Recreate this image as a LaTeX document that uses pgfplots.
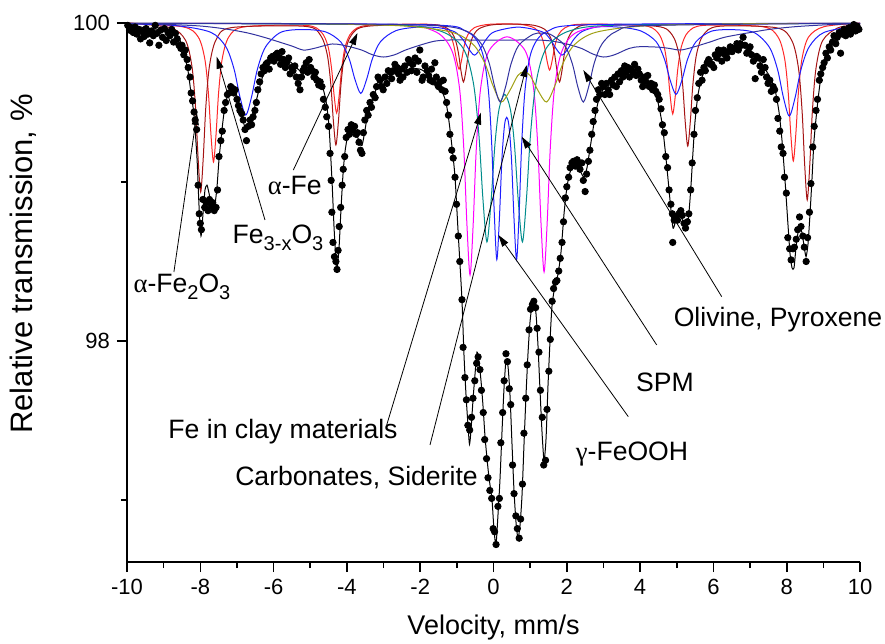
\documentclass[border=0pt]{standalone}
\usepackage{fontspec}
\setmainfont{Liberation Sans}
\newfontfamily\grk{Liberation Serif}
\usepackage{pgfplots}
\pgfplotsset{compat=1.18}
\usetikzlibrary{arrows.meta}

\definecolor{cred}{RGB}{255,40,40}
\definecolor{cdred}{RGB}{165,20,20}
\definecolor{cblue}{RGB}{30,30,255}
\definecolor{cnavy}{RGB}{50,50,160}
\definecolor{cmag}{RGB}{255,0,255}
\definecolor{cteal}{RGB}{0,140,140}
\definecolor{colive}{RGB}{160,160,20}

\newcommand\sub[1]{\raisebox{-0.45ex}{\fontsize{10}{10}\selectfont #1}}
\newcommand\annfont{\fontsize{13.3}{15}\selectfont}

\begin{document}
\begin{tikzpicture}[arr/.style={-{Triangle[length=6pt,width=3.5pt]}, line width=0.4pt, black},
  ann/.style={font=\annfont, inner sep=0pt}]
\begin{axis}[
    scale only axis,
    width=366.5pt, height=269.5pt,
    xmin=-10, xmax=10,
    ymin=96.61, ymax=100,
    axis x line*=bottom, axis y line*=left,
    axis line style={-, line width=0.8pt},
    xtick={-10,-8,...,10},
    minor xtick={-9,-7,...,9},
    ytick={98,100},
    minor ytick={97,99},
    tick align=outside,
    major tick length=5pt, minor tick length=3pt,
    tick style={line width=0.8pt, black},
    tick label style={font=\fontsize{11}{13}\selectfont},
    /pgf/number format/assume math mode=true,
    xlabel={Velocity, mm/s},
    ylabel={Relative transmission, \%},
    every axis x label/.style={at={(axis description cs:0.5,-0.1224)}, anchor=center, font=\fontsize{13.5}{15}\selectfont},
    every axis y label/.style={at={(axis description cs:-0.142,0.553)}, anchor=center, rotate=90, font=\fontsize{15.5}{17}\selectfont},
    clip=false,
    comp/.style={line width=0.5pt, smooth, tension=0.5, mark=none},
]

% maghemite / magnetite A (red)
\addplot[comp, cred] coordinates {
(-10,100) (-8.48,99.976) (-8.06,99.913) (-7.878,99.775) (-7.78,99.563) (-7.71,99.301) (-7.64,99.126) (-7.57,99.301) (-7.50,99.563) (-7.402,99.775) (-7.22,99.913) (-6.80,99.976)
(-5.12,99.985) (-4.70,99.943) (-4.518,99.855) (-4.42,99.717) (-4.35,99.547) (-4.28,99.434) (-4.21,99.547) (-4.14,99.717) (-4.042,99.855) (-3.86,99.943) (-3.44,99.985)
(-1.78,99.992) (-1.36,99.971) (-1.178,99.925) (-1.08,99.855) (-1.01,99.768) (-0.94,99.71) (-0.87,99.768) (-0.80,99.855) (-0.702,99.925) (-0.52,99.971) (-0.10,99.992)
(0.69,99.992) (1.11,99.970) (1.292,99.924) (1.39,99.852) (1.46,99.763) (1.53,99.704) (1.60,99.763) (1.67,99.852) (1.768,99.924) (1.95,99.970) (2.37,99.992)
(4.05,99.985) (4.47,99.943) (4.652,99.853) (4.75,99.714) (4.82,99.542) (4.89,99.428) (4.96,99.542) (5.03,99.714) (5.128,99.853) (5.31,99.943) (5.73,99.985)
(7.34,99.977) (7.76,99.913) (7.942,99.777) (8.04,99.566) (8.11,99.306) (8.18,99.132) (8.25,99.306) (8.32,99.566) (8.418,99.777) (8.60,99.913) (9.02,99.977) (10,100)
};
% hematite (dark red)
\addplot[comp, cdred] coordinates {
(-10,100) (-8.83,99.971) (-8.41,99.894) (-8.228,99.727) (-8.13,99.469) (-8.06,99.150) (-7.99,98.937) (-7.92,99.150) (-7.85,99.469) (-7.752,99.727) (-7.57,99.894) (-7.15,99.971)
(-5.14,99.979) (-4.72,99.923) (-4.538,99.803) (-4.44,99.617) (-4.37,99.386) (-4.30,99.233) (-4.23,99.386) (-4.16,99.617) (-4.062,99.803) (-3.88,99.923) (-3.46,99.979)
(-1.66,99.990) (-1.24,99.963) (-1.058,99.905) (-0.96,99.815) (-0.89,99.703) (-0.82,99.629) (-0.75,99.703) (-0.68,99.815) (-0.582,99.905) (-0.40,99.963) (0.02,99.990)
(0.96,99.990) (1.38,99.963) (1.562,99.905) (1.66,99.815) (1.73,99.703) (1.80,99.629) (1.87,99.703) (1.94,99.815) (2.038,99.905) (2.22,99.963) (2.64,99.990)
(4.46,99.979) (4.88,99.923) (5.062,99.801) (5.16,99.613) (5.23,99.381) (5.30,99.226) (5.37,99.381) (5.44,99.613) (5.538,99.801) (5.72,99.923) (6.14,99.979)
(7.72,99.970) (8.14,99.889) (8.322,99.714) (8.42,99.444) (8.49,99.110) (8.56,98.887) (8.63,99.110) (8.70,99.444) (8.798,99.714) (8.98,99.889) (9.40,99.970) (10,99.99)
};
% magnetite B (blue)
\addplot[comp, cblue] coordinates {
(-10,99.994) (-8.68,99.984) (-7.72,99.942) (-7.304,99.851) (-7.08,99.711) (-6.92,99.537) (-6.76,99.421) (-6.60,99.537) (-6.44,99.711) (-6.216,99.851) (-5.80,99.942) (-5.19,99.959)
(-4.58,99.944) (-4.164,99.880) (-3.94,99.776) (-3.78,99.645) (-3.62,99.557) (-3.46,99.647) (-3.30,99.778) (-3.076,99.885) (-2.66,99.952) (-2.07,99.974)
(-1.48,99.970) (-1.064,99.945) (-0.84,99.897) (-0.68,99.838) (-0.52,99.798) (-0.36,99.838) (-0.20,99.897) (0.024,99.945) (0.675,99.974)
(1.326,99.945) (1.55,99.897) (1.71,99.838) (1.87,99.798) (2.03,99.838) (2.19,99.897) (2.414,99.946) (2.83,99.975) (3.425,99.974)
(4.02,99.950) (4.436,99.883) (4.66,99.775) (4.82,99.640) (4.98,99.551) (5.14,99.640) (5.30,99.775) (5.524,99.882) (5.94,99.948) (6.525,99.958)
(7.11,99.940) (7.526,99.848) (7.75,99.708) (7.91,99.532) (8.07,99.415) (8.23,99.532) (8.39,99.708) (8.614,99.850) (9.03,99.942) (10,99.984)
};
% alpha-Fe, broad (navy)
\addplot[comp, cnavy] coordinates {
(-10,99.997) (-9,99.992) (-8,99.981) (-7.3,99.962) (-6.7,99.937) (-6.2,99.906) (-5.8,99.877) (-5.5,99.855) (-5.19,99.830) (-4.9,99.840) (-4.4,99.868) (-4.0,99.855)
(-3.6,99.830) (-3.3,99.800) (-3.0,99.786) (-2.7,99.800) (-2.4,99.830) (-2.0,99.861) (-1.6,99.886) (-1.2,99.893) (-0.6,99.893) (0.0,99.893) (0.6,99.893) (1.2,99.893)
(1.6,99.886) (2.0,99.868) (2.4,99.840) (2.7,99.806) (3.0,99.786) (3.3,99.800) (3.7,99.840) (4.0,99.851) (4.5,99.848) (4.8,99.840) (5.09,99.830) (5.4,99.845)
(5.9,99.880) (6.3,99.910) (7.0,99.940) (7.6,99.962) (8.3,99.978) (9.2,99.990) (10,99.995)
};
% Fe in clay (magenta)
\addplot[comp, cmag] coordinates {
(-10,99.998) (-3,99.990) (-1.66,99.953) (-1.15,99.834) (-0.929,99.593) (-0.81,99.208) (-0.725,98.732) (-0.64,98.415) (-0.555,98.732) (-0.47,99.208) (-0.351,99.59) (-0.13,99.822)
(0.37,99.913) (0.87,99.823) (1.091,99.595) (1.21,99.217) (1.295,98.747) (1.38,98.434) (1.465,98.747) (1.55,99.217) (1.669,99.598) (1.89,99.836) (2.40,99.954) (4,99.990) (10,99.998)
};
% SPM (teal)
\addplot[comp, cteal] coordinates {
(-10,99.998) (-3,99.988) (-1.50,99.953) (-0.84,99.845) (-0.554,99.629) (-0.40,99.30) (-0.29,98.898) (-0.18,98.623) (-0.07,98.869) (0.04,99.239) (0.15,99.457)
(0.305,99.551) (0.46,99.457) (0.57,99.239) (0.68,98.869) (0.79,98.623) (0.90,98.898) (1.01,99.30) (1.164,99.629) (1.45,99.845) (2.11,99.953) (3.6,99.988) (10,99.998)
};
% gamma-FeOOH (blue doublet)
\addplot[comp, cblue] coordinates {
(-10,99.998) (-2,99.99) (-0.75,99.948) (-0.33,99.831) (-0.148,99.596) (-0.05,99.243) (0.02,98.81) (0.09,98.512) (0.16,98.767) (0.23,99.147) (0.30,99.356)
(0.36,99.407) (0.42,99.356) (0.49,99.147) (0.56,98.767) (0.63,98.512) (0.70,98.81) (0.77,99.243) (0.868,99.596) (1.05,99.831) (1.47,99.948) (2.72,99.99) (10,99.998)
};
% carbonates, siderite (olive)
\addplot[comp, colive] coordinates {
(-10,99.998) (-5,99.995) (-2.5,99.982) (-1.14,99.942) (-0.555,99.865) (-0.24,99.748) (-0.015,99.606) (0.21,99.503) (0.435,99.571) (0.66,99.669) (0.83,99.693)
(1.00,99.669) (1.225,99.571) (1.45,99.503) (1.675,99.606) (1.90,99.748) (2.215,99.865) (2.80,99.942) (4.15,99.982) (6.7,99.995) (10,99.998)
};
% olivine, pyroxene (navy doublet)
\addplot[comp, cnavy] coordinates {
(-10,99.998) (-5,99.996) (-1.62,99.984) (-0.72,99.947) (-0.33,99.868) (-0.12,99.749) (0.03,99.602) (0.18,99.503) (0.33,99.599) (0.48,99.744) (0.69,99.860) (1.08,99.929)
(1.315,99.936) (1.55,99.929) (1.94,99.860) (2.15,99.744) (2.30,99.599) (2.45,99.503) (2.60,99.602) (2.75,99.749) (2.96,99.868) (3.35,99.947) (4.25,99.984) (10,99.998)
};

% fit
\addplot[black, line width=0.5pt, smooth, tension=0.4, mark=none] coordinates {
(-10.000,99.987) (-9.645,99.975) (-9.236,99.962) (-8.827,99.950) (-8.608,99.918) (-8.499,99.855) (-8.417,99.780) (-8.336,99.700) (-8.254,99.560) (-8.172,99.420)
(-8.090,99.150) (-8.035,98.850) (-7.981,98.660) (-7.926,98.800) (-7.872,98.950) (-7.817,98.980) (-7.763,98.930) (-7.708,98.870) (-7.653,98.840) (-7.599,98.860)
(-7.544,98.970) (-7.490,99.140) (-7.408,99.330) (-7.326,99.480) (-7.217,99.570) (-7.108,99.600) (-6.999,99.540) (-6.889,99.450) (-6.780,99.340) (-6.698,99.360)
(-6.617,99.390) (-6.507,99.480) (-6.398,99.580) (-6.262,99.690) (-6.098,99.760) (-5.880,99.800) (-5.662,99.780) (-5.471,99.740) (-5.280,99.700) (-5.116,99.700)
(-4.952,99.700) (-4.789,99.660) (-4.679,99.610) (-4.570,99.510) (-4.488,99.350) (-4.407,99.010) (-4.352,98.720) (-4.297,98.490) (-4.270,98.450) (-4.216,98.580)
(-4.161,98.830) (-4.106,99.050) (-4.052,99.190) (-3.970,99.300) (-3.861,99.340) (-3.752,99.310) (-3.643,99.240) (-3.588,99.230) (-3.533,99.290) (-3.452,99.400)
(-3.342,99.500) (-3.206,99.580) (-3.042,99.630) (-2.824,99.670) (-2.551,99.690) (-2.278,99.710) (-2.005,99.710) (-1.733,99.670) (-1.542,99.610) (-1.405,99.570)
(-1.296,99.500) (-1.214,99.380) (-1.132,99.220) (-1.050,99.030) (-0.969,98.700) (-0.914,98.480) (-0.859,98.250) (-0.805,97.910) (-0.750,97.660) (-0.696,97.470)
(-0.655,97.350) (-0.614,97.440) (-0.559,97.630) (-0.505,97.790) (-0.450,97.930) (-0.396,97.870) (-0.341,97.750) (-0.286,97.590) (-0.232,97.400) (-0.177,97.260)
(-0.123,97.140) (-0.041,97.000) (0.014,96.810) (0.068,96.720) (0.123,96.910) (0.177,97.130) (0.232,97.430) (0.286,97.700) (0.341,97.880) (0.396,97.840)
(0.450,97.660) (0.505,97.350) (0.559,97.060) (0.614,96.860) (0.668,96.760) (0.723,96.840) (0.778,97.030) (0.832,97.350) (0.887,97.660) (0.941,97.920)
(0.996,98.120) (1.050,98.220) (1.105,98.250) (1.160,98.170) (1.214,97.970) (1.269,97.690) (1.323,97.430) (1.378,97.250) (1.432,97.380) (1.487,97.720)
(1.542,98.000) (1.596,98.220) (1.678,98.350) (1.760,98.420) (1.842,98.560) (1.924,98.800) (2.005,98.970) (2.087,99.060) (2.196,99.110) (2.306,99.100)
(2.387,99.060) (2.469,99.030) (2.551,99.090) (2.633,99.210) (2.742,99.370) (2.851,99.500) (2.988,99.580) (3.179,99.630) (3.452,99.670) (3.724,99.690)
(3.997,99.680) (4.188,99.640) (4.352,99.580) (4.488,99.500) (4.598,99.370) (4.679,99.210) (4.761,99.020) (4.843,98.820) (4.898,98.710) (4.952,98.740)
(5.034,98.810) (5.116,98.780) (5.198,98.740) (5.280,98.710) (5.334,98.810) (5.389,98.980) (5.443,99.190) (5.498,99.380) (5.580,99.550) (5.689,99.660)
(5.853,99.740) (6.044,99.780) (6.316,99.810) (6.589,99.840) (6.780,99.850) (6.999,99.830) (7.190,99.780) (7.381,99.720) (7.544,99.660) (7.681,99.580)
(7.790,99.440) (7.872,99.260) (7.954,99.010) (8.035,98.730) (8.090,98.550) (8.145,98.460) (8.199,98.460) (8.254,98.590) (8.308,98.680) (8.363,98.720)
(8.417,98.680) (8.472,98.600) (8.527,98.530) (8.581,98.610) (8.636,98.800) (8.690,99.020) (8.745,99.260) (8.827,99.460) (8.909,99.620) (9.018,99.750)
(9.127,99.840) (9.263,99.910) (9.454,99.950) (9.727,99.970) (10.000,99.980)
};

% measured spectrum
\addplot[only marks, mark=*, mark size=1.6pt, black] coordinates {
(-9.98,99.985) (-9.93,99.955) (-9.88,99.97) (-9.83,99.94) (-9.78,99.975) (-9.73,99.93) (-9.68,99.96) (-9.63,99.90) (-9.58,99.945) (-9.53,99.915)
(-9.48,99.965) (-9.43,99.93) (-9.38,99.875) (-9.33,99.95) (-9.28,99.92) (-9.23,99.985) (-9.18,99.935) (-9.13,99.86) (-9.08,99.955) (-9.03,99.91)
(-8.98,99.965) (-8.93,99.89) (-8.88,99.94) (-8.83,99.92) (-8.78,99.96) (-8.73,99.88) (-8.68,99.935) (-8.63,99.90) (-8.58,99.86) (-8.53,99.84)
(-8.50,99.86) (-8.45,99.80) (-8.41,99.83) (-8.36,99.77) (-8.33,99.72) (-8.28,99.66) (-8.25,99.56) (-8.21,99.51) (-8.17,99.44) (-8.14,99.39)
(-8.10,99.33) (-8.06,98.98) (-8.03,98.80) (-8.00,98.74) (-7.97,98.70) (-7.93,98.89) (-7.88,98.84) (-7.84,98.87) (-7.79,98.82) (-7.75,98.89)
(-7.70,98.85) (-7.66,98.87) (-7.62,98.82) (-7.57,98.84) (-7.53,98.95) (-7.49,99.16) (-7.44,99.26) (-7.40,99.32) (-7.35,99.45) (-7.31,99.50)
(-7.26,99.55) (-7.22,99.56) (-7.17,99.60) (-7.13,99.59) (-7.09,99.56) (-7.05,99.58) (-7.00,99.52) (-6.96,99.48) (-6.92,99.45) (-6.87,99.43)
(-6.83,99.39) (-6.78,99.33) (-6.74,99.26) (-6.69,99.35) (-6.64,99.39) (-6.60,99.36) (-6.56,99.41) (-6.51,99.45) (-6.47,99.50) (-6.43,99.58)
(-6.38,99.63) (-6.34,99.68) (-6.29,99.72) (-6.25,99.70) (-6.21,99.74) (-6.17,99.75) (-6.12,99.71) (-6.08,99.78) (-6.03,99.79) (-5.99,99.76)
(-5.94,99.80) (-5.90,99.81) (-5.85,99.78) (-5.81,99.74) (-5.77,99.82) (-5.73,99.77) (-5.68,99.72) (-5.64,99.75) (-5.59,99.78) (-5.55,99.68)
(-5.51,99.72) (-5.47,99.70) (-5.42,99.73) (-5.38,99.66) (-5.33,99.62) (-5.28,99.58) (-5.24,99.66) (-5.20,99.70) (-5.16,99.72) (-5.11,99.75)
(-5.07,99.69) (-5.03,99.77) (-4.99,99.72) (-4.95,99.70) (-4.90,99.66) (-4.86,99.69) (-4.82,99.64) (-4.77,99.61) (-4.73,99.63) (-4.68,99.60)
(-4.64,99.52) (-4.59,99.47) (-4.55,99.41) (-4.50,99.35) (-4.46,99.18) (-4.43,99.01) (-4.41,98.81) (-4.38,98.62) (-4.34,98.53) (-4.30,98.50)
(-4.27,98.45) (-4.24,98.57) (-4.21,98.72) (-4.17,98.84) (-4.13,98.98) (-4.10,99.08) (-4.06,99.16) (-4.02,99.28) (-3.97,99.33) (-3.93,99.30)
(-3.88,99.36) (-3.84,99.33) (-3.79,99.35) (-3.75,99.30) (-3.71,99.31) (-3.67,99.25) (-3.63,99.20) (-3.59,99.18) (-3.55,99.31) (-3.51,99.39)
(-3.46,99.45) (-3.42,99.42) (-3.37,99.50) (-3.33,99.47) (-3.28,99.55) (-3.23,99.53) (-3.19,99.60) (-3.15,99.66)
(-3.10,99.64) (-3.05,99.60) (-3.01,99.58) (-2.96,99.66) (-2.91,99.62) (-2.87,99.70) (-2.82,99.69) (-2.78,99.65) (-2.74,99.70) (-2.69,99.74)
(-2.63,99.72) (-2.59,99.68) (-2.55,99.64) (-2.51,99.71) (-2.47,99.66) (-2.42,99.73) (-2.36,99.69) (-2.32,99.77) (-2.28,99.75) (-2.24,99.70)
(-2.20,99.74) (-2.14,99.78) (-2.09,99.69) (-2.05,99.76) (-2.01,99.83) (-1.95,99.64) (-1.92,99.66) (-1.87,99.73) (-1.81,99.70) (-1.77,99.67)
(-1.73,99.64) (-1.69,99.71) (-1.65,99.63) (-1.60,99.75) (-1.56,99.66) (-1.52,99.61)
(-1.50,99.60) (-1.46,99.63) (-1.41,99.58) (-1.37,99.64) (-1.32,99.57) (-1.28,99.50) (-1.23,99.42) (-1.19,99.30) (-1.14,99.20) (-1.10,99.15)
(-1.05,99.03) (-1.01,98.86) (-0.96,98.66) (-0.92,98.50)
(-0.86,98.26) (-0.83,97.96) (-0.78,97.77) (-0.74,97.63) (-0.70,97.47) (-0.65,97.44) (-0.60,97.52) (-0.56,97.64) (-0.51,97.75) (-0.46,97.86)
(-0.42,97.90) (-0.37,97.82) (-0.33,97.69) (-0.28,97.55) (-0.24,97.38) (-0.19,97.26) (-0.15,97.14) (-0.10,97.06) (-0.05,97.01) (-0.01,96.82)
(0.03,96.80) (0.07,96.72) (0.12,96.96) (0.16,97.01) (0.20,97.36) (0.25,97.55) (0.29,97.75) (0.34,97.92) (0.38,97.87) (0.43,97.70)
(0.47,97.60) (0.52,97.22) (0.56,97.04) (0.61,96.90) (0.65,96.82) (0.70,96.76) (0.74,96.88) (0.79,97.10) (0.83,97.42) (0.88,97.64)
(0.92,97.85) (0.97,98.07) (1.01,98.20) (1.06,98.23) (1.10,98.25) (1.15,98.21) (1.19,98.08) (1.24,97.93) (1.28,97.69) (1.33,97.52)
(1.37,97.22) (1.42,97.25) (1.46,97.57) (1.51,97.81) (1.55,98.01) (1.60,98.25)
(1.64,98.33) (1.69,98.37) (1.73,98.38) (1.78,98.44) (1.82,98.52) (1.87,98.62) (1.91,98.75) (1.96,98.90) (2.00,98.97) (2.05,99.03)
(2.09,99.09) (2.14,99.12) (2.18,99.13) (2.23,99.10) (2.28,99.14) (2.32,99.11) (2.36,99.08) (2.41,99.12) (2.45,99.01) (2.50,98.94)
(2.54,99.05) (2.59,99.13) (2.63,99.20) (2.68,99.30) (2.72,99.38) (2.77,99.45) (2.81,99.52) (2.86,99.58) (2.90,99.55) (2.95,99.62)
(2.99,99.60) (3.04,99.55) (3.08,99.62) (3.13,99.58) (3.17,99.55) (3.22,99.64) (3.26,99.61) (3.31,99.66) (3.35,99.60) (3.40,99.68)
(3.44,99.63) (3.49,99.70) (3.53,99.66) (3.58,99.73) (3.62,99.69) (3.67,99.72) (3.71,99.66) (3.76,99.71) (3.80,99.69) (3.85,99.74)
(3.89,99.67) (3.94,99.71) (3.98,99.68) (4.03,99.64) (4.07,99.60) (4.12,99.66) (4.16,99.63) (4.21,99.67) (4.25,99.60) (4.30,99.62)
(4.34,99.58) (4.39,99.61) (4.43,99.57) (4.48,99.55) (4.52,99.52) (4.57,99.46) (4.61,99.36) (4.66,99.31) (4.70,99.16) (4.75,99.09)
(4.79,98.95) (4.84,98.86) (4.88,98.80) (4.89,98.62) (4.93,98.76) (4.97,98.78) (5.02,98.76) (5.06,98.80) (5.11,98.82) (5.15,98.79)
(5.20,98.74) (5.24,98.71) (5.29,98.75) (5.33,98.80) (5.38,98.95) (5.42,99.12) (5.47,99.30) (5.51,99.45) (5.56,99.53) (5.60,99.62)
(5.65,99.69) (5.69,99.64) (5.74,99.72) (5.78,99.70) (5.83,99.75) (5.87,99.77) (5.92,99.74) (5.96,99.74) (6.01,99.72) (6.05,99.80)
(6.10,99.78) (6.14,99.83) (6.19,99.81) (6.23,99.76) (6.28,99.83) (6.32,99.80) (6.37,99.78) (6.41,99.82) (6.46,99.85) (6.51,99.82)
(6.55,99.84) (6.59,99.84) (6.64,99.87) (6.68,99.83) (6.73,99.87) (6.77,99.86) (6.81,99.91) (6.86,99.86) (6.91,99.81) (6.95,99.82)
(7.00,99.85) (7.04,99.80) (7.09,99.76) (7.14,99.65) (7.18,99.79) (7.22,99.78) (7.27,99.73) (7.31,99.69) (7.36,99.77) (7.41,99.72)
(7.45,99.66) (7.49,99.62) (7.54,99.64) (7.58,99.57) (7.63,99.60) (7.67,99.58) (7.72,99.52) (7.76,99.40) (7.81,99.32) (7.85,99.22)
(7.90,99.18) (7.94,99.03) (7.99,98.93) (8.03,98.65) (8.08,98.58) (8.12,98.51) (8.17,98.58) (8.21,98.59) (8.26,98.64) (8.30,98.70)
(8.35,98.78) (8.39,98.72) (8.44,98.66) (8.48,98.59) (8.53,98.50) (8.57,98.65) (8.62,98.81) (8.66,98.99) (8.71,99.22) (8.75,99.35)
(8.80,99.45) (8.84,99.52) (8.89,99.64) (8.93,99.68) (8.98,99.72) (9.02,99.75) (9.07,99.81) (9.11,99.78) (9.16,99.85) (9.20,99.83)
(9.25,99.88) (9.29,99.92) (9.34,99.87) (9.38,99.91) (9.43,99.94) (9.47,99.81) (9.52,99.93) (9.56,99.96) (9.61,99.92) (9.65,99.95)
(9.70,99.97) (9.74,99.93) (9.79,99.96) (9.83,99.99) (9.88,99.95) (9.92,99.98) (9.97,99.96)
};

% annotations
\draw[arr] (-8.72,98.434) -- (-8.09,99.434);
\node[ann] at (-8.50,98.34) {{\grk α}-Fe\sub{2}O\sub{3}};
\draw[arr] (-6.235,98.761) -- (-7.553,99.788);
\node[ann] at (-5.88,98.648) {Fe\sub{3-x}O\sub{3}};
\draw[arr] (-5.462,99.075) -- (-3.711,99.937);
\node[ann] at (-5.42,98.975) {{\grk α}-Fe};
\draw[arr] (-2.914,97.472) -- (-0.341,99.437);
\node[ann] at (-5.743,97.428) {Fe in clay materials};
\draw[arr] (-1.733,97.346) -- (0.906,99.736);
\node[ann] at (-3.738,97.138) {Carbonates, Siderite};
\draw[arr] (3.678,97.524) -- (0.131,98.667);
\node[ann] at (3.779,97.289) {{\grk γ}-FeOOH};
\draw[arr] (4.453,97.975) -- (0.769,99.285);
\node[ann] at (4.679,97.742) {SPM};
\draw[arr] (6.226,98.279) -- (2.450,99.704);
\node[ann] at (7.763,98.132) {Olivine, Pyroxene};
\end{axis}
\pgfresetboundingbox
\path ([shift={(-63.5pt,-40.5pt)}]current axis.south west) rectangle ([shift={(12.5pt,11.5pt)}]current axis.north east);
\end{tikzpicture}
\end{document}
